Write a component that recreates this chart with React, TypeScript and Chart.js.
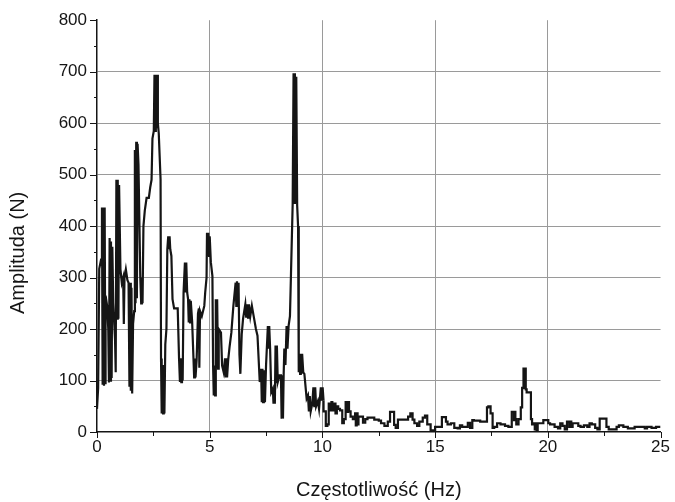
import React, { useEffect, useRef } from "react";
import { Chart, registerables } from "chart.js";

Chart.register(...registerables);

// [frequency Hz, amplitude N]
const band0to5: [number, number][] = [
  [0, 45], [0.05, 85], [0.1, 317], [0.18, 335],
  [0.22, 436], [0.25, 92], [0.28, 436], [0.31, 90], [0.34, 436], [0.37, 95],
  [0.38, 265], [0.45, 245], [0.5, 200], [0.53, 96],
  [0.56, 377], [0.59, 100], [0.62, 370], [0.65, 105], [0.68, 360],
  [0.72, 250], [0.8, 180], [0.83, 116],
  [0.86, 490], [0.89, 220], [0.92, 490], [0.95, 220], [0.98, 480],
  [1.04, 316], [1.1, 290], [1.16, 300], [1.19, 210], [1.22, 300],
  [1.28, 316], [1.35, 295], [1.4, 290],
  [1.44, 88], [1.47, 290], [1.5, 80], [1.53, 280], [1.56, 75],
  [1.6, 210], [1.65, 235],
  [1.68, 548], [1.71, 250], [1.74, 564], [1.77, 260], [1.8, 560],
  [1.84, 520], [1.92, 300], [1.96, 250], [1.99, 300], [2.02, 250],
  [2.06, 400], [2.12, 430], [2.2, 455], [2.3, 455], [2.36, 475], [2.42, 490], [2.46, 570], [2.52, 585],
  [2.55, 694], [2.58, 585], [2.61, 694], [2.64, 590], [2.67, 694], [2.7, 600],
  [2.74, 580], [2.82, 491], [2.84, 143],
  [2.87, 36], [2.9, 130], [2.93, 36], [2.96, 130], [2.99, 36],
  [3.03, 170], [3.08, 200], [3.12, 355],
  [3.16, 380], [3.19, 355], [3.22, 380], [3.25, 355],
  [3.3, 342], [3.35, 258], [3.42, 240], [3.58, 240], [3.64, 143],
  [3.68, 97], [3.71, 143], [3.74, 97], [3.77, 143], [3.8, 100],
  [3.84, 271], [3.9, 329], [3.93, 271], [3.96, 329], [4.0, 271],
  [4.04, 258], [4.07, 213], [4.1, 258], [4.13, 213], [4.16, 255],
  [4.22, 215], [4.28, 143], [4.31, 106], [4.34, 143], [4.37, 106], [4.42, 140],
  [4.48, 230], [4.52, 240], [4.54, 125], [4.57, 235], [4.65, 225], [4.76, 245], [4.8, 271], [4.86, 300],
  [4.88, 387], [4.91, 342], [4.94, 387], [4.97, 342], [5.0, 380],
];

const band5to10: [number, number][] = [
  [5.05, 330], [5.12, 303], [5.15, 129],
  [5.18, 71], [5.21, 129], [5.24, 71],
  [5.27, 258], [5.3, 125], [5.33, 258], [5.37, 123],
  [5.4, 200], [5.5, 193], [5.55, 129], [5.62, 116],
  [5.68, 143], [5.71, 106], [5.74, 143], [5.77, 106],
  [5.82, 140], [5.88, 165], [5.96, 193], [6.05, 245],
  [6.15, 290], [6.18, 245], [6.21, 293], [6.24, 250], [6.28, 290],
  [6.32, 150], [6.36, 113], [6.42, 190], [6.48, 220],
  [6.58, 248], [6.62, 222], [6.66, 248], [6.7, 222], [6.74, 248],
  [6.8, 225], [6.87, 245], [6.95, 225], [7.05, 200], [7.12, 187], [7.22, 97],
  [7.28, 123], [7.31, 58], [7.34, 123], [7.37, 58], [7.4, 120], [7.45, 58], [7.5, 130],
  [7.58, 206], [7.61, 162], [7.64, 206], [7.68, 162], [7.73, 77],
  [7.8, 84], [7.83, 55], [7.86, 84], [7.89, 55],
  [7.92, 168], [7.95, 97], [7.98, 168], [8.02, 97], [8.1, 110],
  [8.16, 110], [8.19, 26], [8.22, 110], [8.25, 26], [8.28, 110],
  [8.31, 162], [8.36, 130], [8.41, 206], [8.45, 162], [8.5, 206], [8.56, 225], [8.6, 297], [8.68, 442],
  [8.72, 697], [8.75, 445], [8.78, 697], [8.81, 445], [8.84, 690], [8.88, 440], [8.92, 400], [8.95, 116],
  [8.98, 152], [9.01, 113], [9.04, 152], [9.07, 113], [9.1, 152], [9.15, 116], [9.2, 113], [9.3, 65],
  [9.36, 71], [9.4, 40], [9.44, 70], [9.48, 40], [9.55, 55],
  [9.6, 87], [9.64, 48], [9.68, 87], [9.72, 50], [9.8, 60], [9.85, 45],
  [9.93, 87], [9.97, 61], [10.01, 87], [10.05, 61],
];

const band10to25: [number, number][] = [
  [10.15, 40], [10.22, 12], [10.28, 15],
  [10.37, 55], [10.4, 42], [10.44, 58], [10.5, 42],
  [10.58, 55], [10.64, 36], [10.7, 50], [10.78, 45], [10.88, 42], [10.95, 17], [11.03, 25],
  [11.1, 58], [11.14, 39], [11.18, 58], [11.25, 40], [11.35, 30], [11.45, 25],
  [11.48, 36], [11.52, 13], [11.56, 36], [11.6, 15],
  [11.7, 30], [11.8, 30], [11.9, 18], [12.0, 25], [12.1, 28], [12.3, 28], [12.5, 24], [12.6, 22],
  [12.75, 17], [12.9, 12], [13.0, 20], [13.08, 39], [13.18, 39], [13.25, 14], [13.35, 8], [13.45, 24],
  [13.8, 24], [13.9, 30], [14.0, 36], [14.08, 24], [14.2, 17], [14.3, 12], [14.45, 20], [14.55, 28],
  [14.65, 32], [14.8, 15], [14.9, 3], [15.0, 2], [15.1, 10], [15.3, 10], [15.38, 29], [15.48, 29],
  [15.55, 20], [15.7, 15], [15.85, 17], [16.0, 8], [16.1, 7], [16.2, 13], [16.45, 10], [16.55, 18],
  [16.65, 8], [16.72, 23], [17.0, 22], [17.3, 20], [17.36, 48], [17.46, 50], [17.55, 36], [17.62, 8],
  [17.75, 10], [17.9, 17], [18.1, 15], [18.25, 12], [18.4, 10],
  [18.5, 39], [18.53, 23], [18.56, 39], [18.6, 25], [18.7, 15], [18.8, 25], [18.86, 48], [18.92, 86],
  [18.96, 123], [18.99, 85], [19.02, 123], [19.06, 83], [19.15, 77], [19.25, 77], [19.3, 25], [19.36, 15],
  [19.42, 17], [19.45, 5], [19.5, 17], [19.55, 4], [19.65, 17], [19.8, 17], [19.92, 23], [20.02, 23],
  [20.1, 17], [20.3, 15], [20.45, 10], [20.55, 7], [20.65, 17], [20.75, 12], [20.85, 5],
  [20.95, 20], [20.99, 10], [21.04, 20], [21.1, 10], [21.2, 17], [21.35, 17], [21.45, 12], [21.6, 10],
  [21.75, 13], [21.85, 10], [21.95, 17], [22.1, 15], [22.2, 8], [22.3, 5], [22.45, 26], [22.6, 26],
  [22.7, 10], [22.85, 5], [23.05, 5], [23.15, 10], [23.35, 13], [23.55, 10], [23.85, 7], [24.1, 10],
  [24.3, 10], [24.4, 7], [24.6, 10], [24.8, 8], [25, 10],
];

const xAxisTitle = "Częstotliwość (Hz)";
const yAxisTitle = "Amplituda (N)";
const xRange = [0, 25];
const yRange = [0, 800];
const xMajorStep = 5;
const yMajorStep = 100;

const FONT = "'Liberation Sans', Arial, sans-serif";
const INK = "#151515";
const GRID = "#9a9a9a";

const tickMarks = {
  id: "tickMarks",
  afterDraw(chart: any) {
    const { ctx, chartArea, scales } = chart;
    const xs = scales.x;
    const ys = scales.y;
    ctx.save();
    ctx.strokeStyle = INK;
    ctx.lineWidth = 1;
    ys.ticks.forEach((t: any) => {
      const py = Math.round(ys.getPixelForValue(t.value)) + 0.5;
      const len = t.value % yMajorStep === 0 ? 7 : 3;
      ctx.beginPath();
      ctx.moveTo(chartArea.left - len, py);
      ctx.lineTo(chartArea.left, py);
      ctx.stroke();
    });
    xs.ticks.forEach((t: any) => {
      const px = Math.round(xs.getPixelForValue(t.value)) + 0.5;
      const len = t.value % xMajorStep === 0 ? 6 : 4;
      ctx.beginPath();
      ctx.moveTo(px, chartArea.bottom);
      ctx.lineTo(px, chartArea.bottom + len);
      ctx.stroke();
    });
    // vertical axis title, set slightly below the axis middle as in the reference
    const cy = chartArea.top + (chartArea.bottom - chartArea.top) * 0.565;
    ctx.translate(18, cy);
    ctx.rotate(-Math.PI / 2);
    ctx.fillStyle = INK;
    ctx.font = `20px ${FONT}`;
    ctx.textAlign = "center";
    ctx.textBaseline = "middle";
    ctx.fillText(yAxisTitle, 0, 0);
    ctx.restore();
  },
};

export default function App() {
  const canvasRef = useRef<HTMLCanvasElement | null>(null);

  useEffect(() => {
    document.body.style.margin = "0";
    const canvas = canvasRef.current;
    if (!canvas) return;
    const lowBand = [...band0to5, ...band5to10].map(([x, y]) => ({ x, y }));
    const last = band5to10[band5to10.length - 1];
    const highBand = [last, ...band10to25].map(([x, y]) => ({ x, y }));
    const lineStyle = {
      borderColor: INK,
      borderWidth: 2.2,
      pointRadius: 0,
      tension: 0,
      fill: false,
    };
    const chart = new Chart(canvas, {
      type: "line",
      data: {
        datasets: [
          { data: lowBand, ...lineStyle },
          { data: highBand, ...lineStyle, stepped: "after" as const },
        ],
      },
      options: {
        animation: false,
        responsive: false,
        maintainAspectRatio: false,
        parsing: false,
        layout: { padding: { top: 18, right: 11, bottom: 0, left: 0 } },
        plugins: { legend: { display: false }, tooltip: { enabled: false } },
        scales: {
          x: {
            type: "linear",
            min: xRange[0],
            max: xRange[1],
            afterFit: (s: any) => {
              s.height = 70;
            },
            ticks: {
              stepSize: 2.5,
              autoSkip: false,
              maxRotation: 0,
              padding: 5,
              color: INK,
              font: { family: FONT, size: 17 },
              callback: (v: any) => (Number(v) % xMajorStep === 0 ? String(v) : ""),
            },
            grid: {
              drawTicks: false,
              lineWidth: 1,
              color: (c: any) => {
                const v = c.tick ? c.tick.value : 0;
                return v % xMajorStep === 0 && v > xRange[0] && v < xRange[1] ? GRID : "rgba(0,0,0,0)";
              },
            },
            border: { display: true, color: INK, width: 1.5 },
            title: {
              display: true,
              text: xAxisTitle,
              color: INK,
              font: { family: FONT, size: 20 },
              padding: { top: 0, bottom: 0 },
            },
          },
          y: {
            type: "linear",
            min: yRange[0],
            max: yRange[1],
            afterFit: (s: any) => {
              s.width = 97;
            },
            ticks: {
              stepSize: 50,
              autoSkip: false,
              padding: 10,
              color: INK,
              font: { family: FONT, size: 17 },
              callback: (v: any) => (Number(v) % yMajorStep === 0 ? String(v) : ""),
            },
            grid: {
              drawTicks: false,
              lineWidth: 1,
              color: (c: any) => {
                const v = c.tick ? c.tick.value : 0;
                return v % yMajorStep === 0 && v > yRange[0] && v < yRange[1] ? GRID : "rgba(0,0,0,0)";
              },
            },
            border: { display: true, color: INK, width: 1.5 },
            title: { display: false },
          },
        },
      },
      plugins: [tickMarks],
    });
    return () => chart.destroy();
  }, []);

  return (
    <div style={{ width: 675, height: 502, background: "#fff" }}>
      <canvas ref={canvasRef} width={675} height={502} style={{ display: "block" }} />
    </div>
  );
}
